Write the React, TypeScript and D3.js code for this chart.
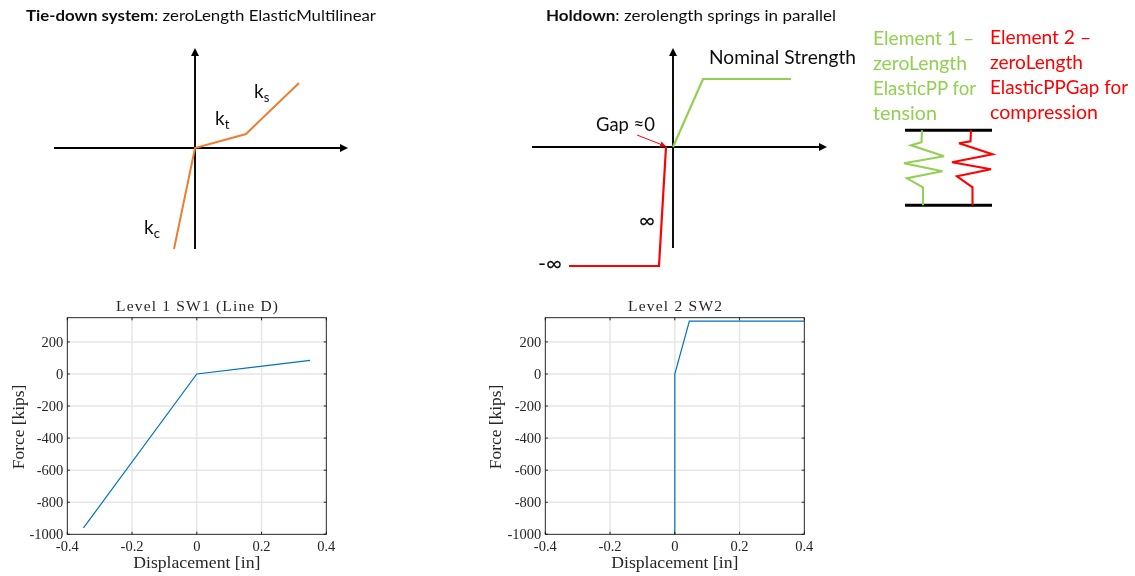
import React from "react";
import * as d3 from "d3";

type P = [number, number];

// Measured plots: displacement [in], force [kips]
const sw1Displacement = [-0.35, 0, 0.35];
const sw1Force = [-960, 0, 85];
const sw2Displacement = [0, 0, 0.045, 0.4];
const sw2Force = [-1000, 0, 330, 330];
const xTicks = [-0.4, -0.2, 0, 0.2, 0.4];
const yTicks = [-1000, -800, -600, -400, -200, 0, 200];

// Schematic curves (offsets from each schematic's origin)
const tieDownCurve: P[] = [[-21, -101], [0, 0], [51, 14], [104, 65]];
const holdownTension: P[] = [[0, 0], [30, 68], [118, 68]];
const holdownCompression: P[] = [[-104, -119], [-14, -119], [-7, 0]];
const gapArrow: P[] = [[-36, 12], [-8, 1]];

// Spring sketch (offsets from the lower bar's left end)
const springGreen: P[] = [[17, 75], [16.5, 63], [6, 60], [39, 49], [-1, 42], [37.5, 34], [2, 27], [18, 18], [18, 0]];
const springRed: P[] = [[66, 75], [65.5, 64], [54, 62], [87.5, 51], [47, 43], [86, 36], [52, 29], [67.5, 18], [67.5, 0]];

const greenLines = ["Element 1 –", "zeroLength", "ElasticPP for", "tension"];
const greenWidths = [101, 94, 103, 64];
const redLines = ["Element 2 –", "zeroLength", "ElasticPPGap for", "compression"];
const redWidths = [101, 93, 138, 108];

const SANS = "Lato, 'Open Sans', sans-serif";
const SERIF = "'Liberation Serif', serif";
const GREEN = "#92D050";
const RED = "#FF0000";
const ORANGE = "#ED7D31";
const BLUE = "#0072BD";
const INK = "#262626";

const line = (sx: (v: number) => number, sy: (v: number) => number) =>
  d3.line<P>().x((d) => sx(d[0])).y((d) => sy(d[1]));

function Txt(p: { x: number; y: number; w?: number; size: number; fill?: string; children: React.ReactNode; anchor?: string; bold?: boolean }) {
  return (
    <text
      x={p.x}
      y={p.y}
      fontFamily={SANS}
      fontSize={p.size}
      fill={p.fill ?? "#1a1a1a"}
      textAnchor={p.anchor}
      fontWeight={p.bold ? 700 : 400}
      textLength={p.w}
      lengthAdjust={p.w ? "spacingAndGlyphs" : undefined}
    >
      {p.children}
    </text>
  );
}

function Cross(p: { ox: number; oy: number; left: number; right: number; up: number; down: number }) {
  const { ox, oy, left, right, up, down } = p;
  return (
    <g>
      <line x1={ox - left} x2={ox + right - 5} y1={oy} y2={oy} stroke="#000" strokeWidth={1.9} />
      <line x1={ox} x2={ox} y1={oy - up + 5} y2={oy + down} stroke="#000" strokeWidth={1.9} />
      <path d={`M${ox + right},${oy} l-8,-4 v8 z`} fill="#000" />
      <path d={`M${ox},${oy - up} l-4,8 h8 z`} fill="#000" />
    </g>
  );
}

function Panel(p: { x0: number; title: string; titleW: number; xs: number[]; ys: number[]; titleX: number; labelX: number }) {
  const W = 259;
  const top = 317.7;
  const bottom = 534.3;
  const sx = d3.scaleLinear().domain([-0.4, 0.4]).range([p.x0, p.x0 + W]);
  const sy = d3.scaleLinear().domain([-1000, 351]).range([bottom, top]);
  const pts = p.xs.map((x, i) => [x, p.ys[i]] as P);
  const grid = "#e6e6e6";
  const serif = { fontFamily: SERIF, fill: INK };
  return (
    <g>
      {xTicks.slice(1, -1).map((t) => (
        <line key={t} x1={sx(t)} x2={sx(t)} y1={top} y2={bottom} stroke={grid} strokeWidth={1.5} />
      ))}
      {yTicks.slice(1).map((t) => (
        <line key={t} x1={p.x0} x2={p.x0 + W} y1={sy(t)} y2={sy(t)} stroke={grid} strokeWidth={1.5} />
      ))}
      <path d={line(sx, sy)(pts) ?? ""} fill="none" stroke={BLUE} strokeWidth={1.2} />
      <rect x={p.x0} y={top} width={W} height={bottom - top} fill="none" stroke="#111" strokeWidth={0.9} />
      {xTicks.map((t) => (
        <g key={t}>
          <line x1={sx(t)} x2={sx(t)} y1={bottom} y2={bottom - 2.6} stroke="#111" strokeWidth={0.9} />
          <line x1={sx(t)} x2={sx(t)} y1={top} y2={top + 2.6} stroke="#111" strokeWidth={0.9} />
          <text x={sx(t)} y={550.5} textAnchor="middle" fontSize={14.5} {...serif}>
            {t === 0 ? "0" : d3.format(".1f")(t).replace("−", "-")}
          </text>
        </g>
      ))}
      {yTicks.map((t) => (
        <g key={t}>
          <line x1={p.x0} x2={p.x0 + 2.6} y1={sy(t)} y2={sy(t)} stroke="#111" strokeWidth={0.9} />
          <line x1={p.x0 + W} x2={p.x0 + W - 2.6} y1={sy(t)} y2={sy(t)} stroke="#111" strokeWidth={0.9} />
          <text x={p.x0 - 4} y={sy(t) + 4.8} textAnchor="end" fontSize={14.5} {...serif}>
            {t}
          </text>
        </g>
      ))}
      <text x={p.titleX} y={311} textAnchor="middle" fontSize={15.5} textLength={p.titleW} lengthAdjust="spacing" {...serif}>
        {p.title}
      </text>
      <text x={sx(0)} y={568} textAnchor="middle" fontSize={17.7} {...serif}>
        Displacement [in]
      </text>
      <text transform={`translate(${p.labelX},${sy(-330)}) rotate(-90)`} textAnchor="middle" fontSize={17.4} {...serif}>
        Force [kips]
      </text>
    </g>
  );
}

function App() {
  const tx = d3.scaleLinear().domain([-141, 153]).range([54, 348]);
  const ty = d3.scaleLinear().domain([-101, 98]).range([249, 50]);
  const hx = d3.scaleLinear().domain([-141, 154]).range([532, 827]);
  const hy = d3.scaleLinear().domain([-119, 99]).range([266, 48]);
  const spx = d3.scaleLinear().domain([0, 87]).range([905, 992]);
  const spy = d3.scaleLinear().domain([0, 75]).range([205.3, 130.3]);

  return (
    <svg width={1135} height={576} viewBox="0 0 1135 576" style={{ position: "absolute", left: 0, top: 0, background: "#fff" }}>
      <defs>
        <marker id="redHead" markerWidth="6" markerHeight="6" refX="5" refY="3" orient="auto" markerUnits="userSpaceOnUse">
          <path d="M0,0 L6,3 L0,6 z" fill={RED} />
        </marker>
        <filter id="soft" x="0" y="0" width="1135" height="576" filterUnits="userSpaceOnUse">
          <feGaussianBlur stdDeviation="0.4" />
        </filter>
      </defs>

      <g filter="url(#soft)">
        {/* Tie-down schematic */}
        <text x={26} y={21} fontFamily={SANS} fontSize={15} fill="#111" textLength={350} lengthAdjust="spacingAndGlyphs">
          <tspan fontWeight={700}>Tie-down system</tspan>: zeroLength ElasticMultilinear
        </text>
        <Cross ox={tx(0)} oy={ty(0)} left={141} right={153} up={100} down={101} />
        <path d={line(tx, ty)(tieDownCurve) ?? ""} fill="none" stroke={ORANGE} strokeWidth={2} />
        <text x={254} y={98} fontFamily={SANS} fontSize={19} fill="#111">k<tspan fontSize={13} dy={4}>s</tspan></text>
        <text x={215} y={125} fontFamily={SANS} fontSize={19} fill="#111">k<tspan fontSize={13} dy={4}>t</tspan></text>
        <text x={144} y={234} fontFamily={SANS} fontSize={19} fill="#111">k<tspan fontSize={13} dy={4}>c</tspan></text>

        {/* Holdown schematic */}
        <text x={546} y={21} fontFamily={SANS} fontSize={15} fill="#111" textLength={290} lengthAdjust="spacingAndGlyphs">
          <tspan fontWeight={700}>Holdown</tspan>: zerolength springs in parallel
        </text>
        <Cross ox={hx(0)} oy={hy(0)} left={141} right={154} up={99} down={101} />
        <path d={line(hx, hy)(holdownTension) ?? ""} fill="none" stroke={GREEN} strokeWidth={2.2} />
        <path d={line(hx, hy)(holdownCompression) ?? ""} fill="none" stroke={RED} strokeWidth={2.2} />
        <path d={line(hx, hy)(gapArrow) ?? ""} fill="none" stroke={RED} strokeWidth={1} markerEnd="url(#redHead)" />
        <Txt x={709} y={64} size={20} w={147} fill="#111">Nominal Strength</Txt>
        <Txt x={596} y={131} size={19.5} w={59} fill="#111">Gap ≈0</Txt>
        <Txt x={639} y={228} size={22} w={16} fill="#111">∞</Txt>
        <Txt x={538} y={271} size={22} w={24} fill="#111">-∞</Txt>

        {greenLines.map((t, i) => (
          <Txt key={t} x={873} y={45 + i * 25} size={19.5} fill={GREEN} w={greenWidths[i]}>{t}</Txt>
        ))}
        {redLines.map((t, i) => (
          <Txt key={t} x={990} y={44 + i * 25} size={19.5} fill={RED} w={redWidths[i]}>{t}</Txt>
        ))}

        {/* Spring sketch */}
        <line x1={spx(0)} x2={spx(87)} y1={spy(75)} y2={spy(75)} stroke="#000" strokeWidth={3} />
        <line x1={spx(0)} x2={spx(87)} y1={spy(0)} y2={spy(0)} stroke="#000" strokeWidth={3} />
        <path d={line(spx, spy)(springGreen) ?? ""} fill="none" stroke={GREEN} strokeWidth={2.1} />
        <path d={line(spx, spy)(springRed) ?? ""} fill="none" stroke={RED} strokeWidth={2.1} />

        {/* Measured force-displacement plots */}
        <Panel x0={67.3} title="Level 1 SW1 (Line D)" titleW={162} xs={sw1Displacement} ys={sw1Force} titleX={197} labelX={24} />
        <Panel x0={545.3} title="Level 2 SW2" titleW={94} xs={sw2Displacement} ys={sw2Force} titleX={675} labelX={501} />
      </g>
    </svg>
  );
}

export default App;
